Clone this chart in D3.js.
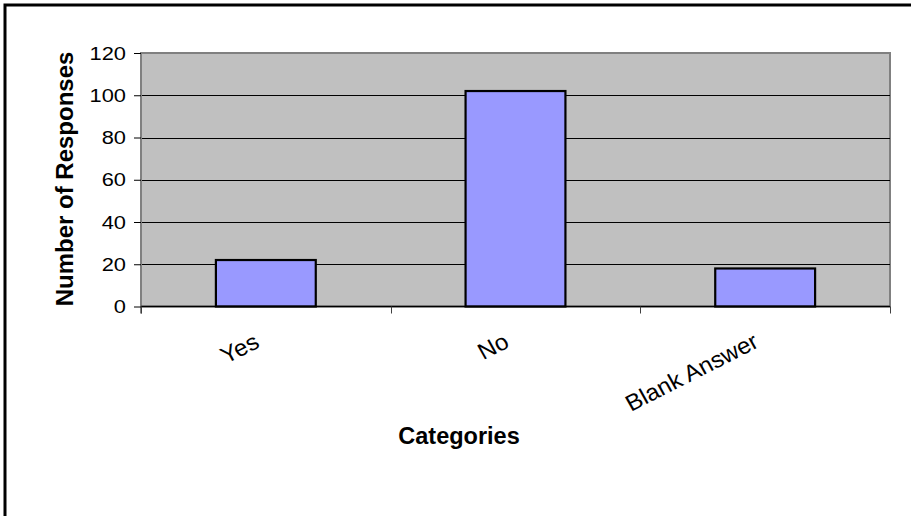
<!DOCTYPE html>
<html>
<head>
<meta charset="utf-8">
<script src="https://cdn.jsdelivr.net/npm/d3@7"></script>
<style>
  html, body { margin: 0; padding: 0; background: #fff; }
  svg { display: block; }
  text { font-family: "Liberation Sans", Arial, sans-serif; fill: #000; }
</style>
</head>
<body>
<script>
const categories = ["Yes", "No", "Blank Answer"];
const responses = [22, 102, 18];
const yTicks = [0, 20, 40, 60, 80, 100, 120];

const W = 911, H = 516;
const svg = d3.select("body").append("svg").attr("width", W).attr("height", H);

// outer chart border
svg.append("rect").attr("x", 5).attr("y", 5).attr("width", W + 20).attr("height", H + 20)
  .attr("fill", "#fff").attr("stroke", "#000").attr("stroke-width", 3);

const plot = { left: 141, right: 890, top: 53, bottom: 306.5 };

const x = d3.scaleBand().domain(categories).range([plot.left, plot.right]).paddingInner(0).paddingOuter(0);
const y = d3.scaleLinear().domain([0, 120]).range([plot.bottom, plot.top]);

// plot area
svg.append("rect").attr("x", plot.left).attr("y", plot.top)
  .attr("width", plot.right - plot.left).attr("height", plot.bottom - plot.top)
  .attr("fill", "#C0C0C0").attr("stroke", "#808080").attr("stroke-width", 2);

// gridlines
svg.append("g").selectAll("line").data(yTicks.filter(d => d > 0 && d < 120)).join("line")
  .attr("x1", plot.left).attr("x2", plot.right)
  .attr("y1", d => Math.round(y(d)) + 0.5).attr("y2", d => Math.round(y(d)) + 0.5)
  .attr("stroke", "#000").attr("stroke-width", 1);

// bars
const barW = x.bandwidth() * 0.4;
svg.append("g").selectAll("rect").data(categories).join("rect")
  .attr("x", d => x(d) + (x.bandwidth() - barW) / 2)
  .attr("y", (d, i) => y(responses[i]))
  .attr("width", barW)
  .attr("height", (d, i) => y(0) - y(responses[i]))
  .attr("fill", "#9999FF").attr("stroke", "#000").attr("stroke-width", 2.2);

// y axis
const yAxis = svg.append("g").attr("transform", `translate(${plot.left},0)`)
  .call(d3.axisLeft(y).tickValues(yTicks).tickSize(7).tickPadding(6).tickFormat(d3.format("d")));
yAxis.select(".domain").attr("stroke", "#808080").attr("stroke-width", 2)
  .attr("d", `M0,${plot.top}V${plot.bottom + 7}`);
yAxis.selectAll(".tick line").attr("stroke", "#000");
yAxis.selectAll(".tick text").attr("font-size", 19).attr("font-family", "Liberation Sans, Arial, sans-serif")
  .attr("fill", "#000").attr("x", 0).attr("transform", "translate(-15,0) scale(1.15,1)");

// x axis
const xAxis = svg.append("g").attr("transform", `translate(0,${plot.bottom})`)
  .call(d3.axisBottom(x).tickSize(0).tickFormat(""));
xAxis.select(".domain").attr("stroke", "#000").attr("stroke-width", 1.5)
  .attr("d", `M${plot.left},0H${plot.right}`);
xAxis.selectAll(".tick").remove();
// boundary ticks
const bounds = categories.map(c => x(c)).concat([x(categories[categories.length - 1]) + x.bandwidth()]);
svg.append("g").selectAll("line").data(bounds).join("line")
  .attr("x1", d => Math.round(d) + 0.5).attr("x2", d => Math.round(d) + 0.5)
  .attr("y1", plot.bottom).attr("y2", plot.bottom + 7)
  .attr("stroke", "#404040").attr("stroke-width", 1);

// category labels
svg.append("g").selectAll("text").data(categories).join("text")
  .attr("transform", d => `translate(${x(d) + x.bandwidth() / 2 - 5},${plot.bottom + 40}) scale(1.05,1) rotate(-28)`)
  .attr("text-anchor", "end")
  .attr("font-size", 23)
  .text(d => d);

// axis titles
svg.append("text").attr("x", 459).attr("y", 444).attr("text-anchor", "middle")
  .attr("font-size", 23.5).attr("font-weight", "bold").text("Categories");
svg.append("text").attr("transform", `translate(73,179) rotate(-90)`).attr("text-anchor", "middle")
  .attr("font-size", 24).attr("font-weight", "bold").text("Number of Responses");
</script>
</body>
</html>
